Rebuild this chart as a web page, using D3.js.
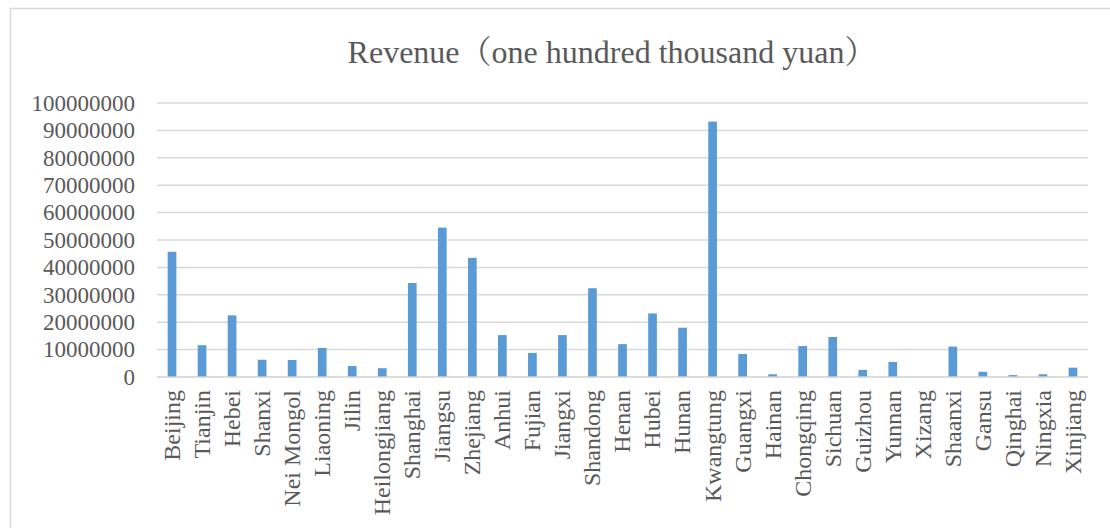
<!DOCTYPE html>
<html>
<head>
<meta charset="utf-8">
<script src="https://cdn.jsdelivr.net/npm/d3@7"></script>
<style>
  html, body { margin: 0; padding: 0; background: #fff; }
  svg { display: block; }
</style>
</head>
<body>
<svg id="chart" width="1110" height="528"></svg>
<script>
const title = "Revenue（one hundred thousand yuan）";
const provinces = ["Beijing","Tianjin","Hebei","Shanxi","Nei Mongol","Liaoning","Jilin","Heilongjiang","Shanghai","Jiangsu","Zhejiang","Anhui","Fujian","Jiangxi","Shandong","Henan","Hubei","Hunan","Kwangtung","Guangxi","Hainan","Chongqing","Sichuan","Guizhou","Yunnan","Xizang","Shaanxi","Gansu","Qinghai","Ningxia","Xinjiang"];
const revenue = [45700000,11600000,22500000,6300000,6200000,10600000,4000000,3200000,34300000,54500000,43500000,15300000,8800000,15300000,32400000,12000000,23200000,18000000,93200000,8400000,1000000,11300000,14600000,2600000,5500000,0,11100000,1900000,700000,1000000,3400000];
const yTicks = [0,10000000,20000000,30000000,40000000,50000000,60000000,70000000,80000000,90000000,100000000];

const svg = d3.select("#chart");
const font = "'Liberation Serif', 'Times New Roman', 'Noto Serif CJK SC', 'Noto Sans CJK SC', serif";
const textColor = "#595959";

// chart border
svg.append("rect").attr("x", 10.5).attr("y", 8.5).attr("width", 1130).attr("height", 540)
  .attr("fill", "none").attr("stroke", "#d9d9d9").attr("stroke-width", 1.5);

const plotLeft = 157, plotRight = 1088, plotTop = 103, plotBottom = 377;

const x = d3.scaleBand().domain(provinces).range([plotLeft, plotRight])
  .paddingInner(0.71).paddingOuter(0.355);
const y = d3.scaleLinear().domain([0, 100000000]).range([plotBottom, plotTop]);

// gridlines
svg.append("g").selectAll("line").data(yTicks.slice(1)).join("line")
  .attr("x1", plotLeft).attr("x2", plotRight)
  .attr("y1", d => y(d)).attr("y2", d => y(d))
  .attr("stroke", "#d9d9d9").attr("stroke-width", 1.5);

// y axis labels
const yAxis = d3.axisLeft(y).tickValues(yTicks).tickSize(0).tickPadding(22).tickFormat(d3.format("d"));
const yg = svg.append("g").attr("transform", `translate(${plotLeft},0)`).call(yAxis)
  .attr("font-family", font).attr("font-size", 23);
yg.select(".domain").remove();
yg.selectAll("text").attr("font-family", font).attr("font-size", 23).attr("fill", textColor);

// bars
svg.append("g").selectAll("rect").data(provinces).join("rect")
  .attr("x", d => x(d))
  .attr("width", x.bandwidth())
  .attr("y", (d, i) => y(revenue[i]))
  .attr("height", (d, i) => y(0) - y(revenue[i]))
  .attr("fill", "#5b9bd5");

// x axis line
svg.append("line").attr("x1", plotLeft).attr("x2", plotRight)
  .attr("y1", y(0)).attr("y2", y(0))
  .attr("stroke", "#d0d0d0").attr("stroke-width", 1.5);

// x labels
const xAxis = d3.axisBottom(x).tickSize(0).tickPadding(0);
const xg = svg.append("g").attr("transform", `translate(0,${plotBottom})`).call(xAxis)
  .attr("font-family", font).attr("font-size", 24);
xg.select(".domain").remove();
xg.selectAll("text")
  .attr("font-family", font).attr("font-size", 24).attr("fill", textColor)
  .attr("text-anchor", "end")
  .attr("transform", "translate(0,13) rotate(-90)")
  .attr("x", 0).attr("y", 0).attr("dy", "0.33em");

// title
svg.append("text").attr("x", 612).attr("y", 63).attr("text-anchor", "middle")
  .attr("font-family", font).attr("font-size", 32).attr("fill", textColor)
  .text(title);
</script>
</body>
</html>
